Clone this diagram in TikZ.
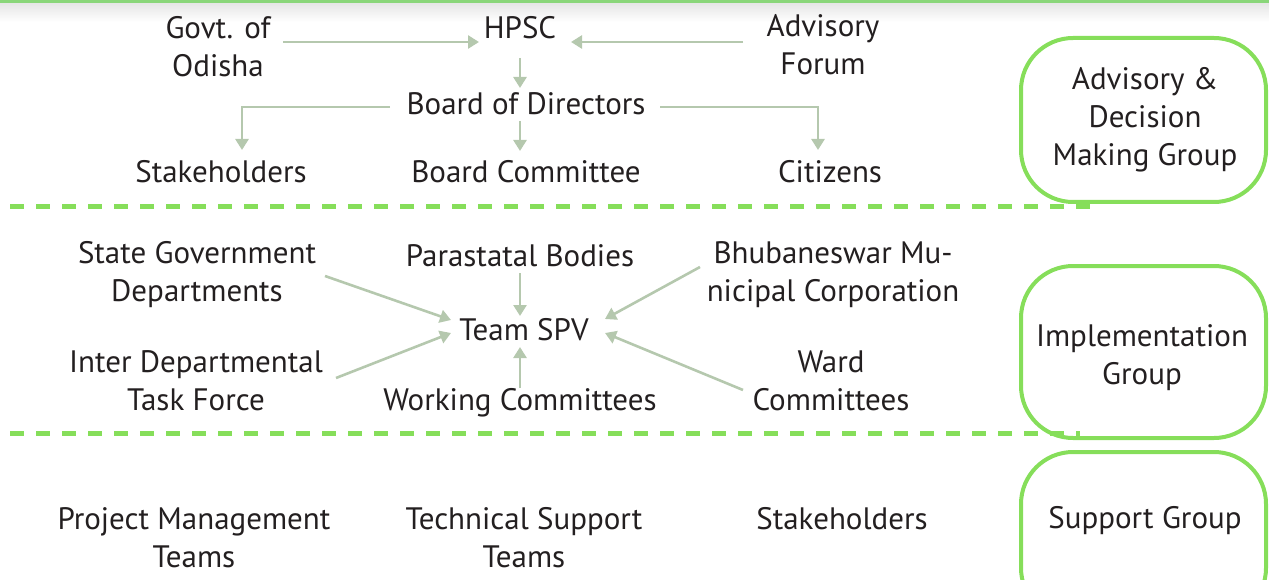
\documentclass[tikz,border=0pt]{standalone}
\usepackage{fontspec}
\setmainfont{PT Sans}
\usetikzlibrary{arrows.meta}
\definecolor{arr}{RGB}{181,200,174}
\definecolor{grn}{RGB}{134,222,90}
\definecolor{topg}{RGB}{138,214,122}
\definecolor{txt}{RGB}{35,31,32}
\tikzset{
  lbl/.style={font=\fontsize{31}{38}\selectfont, text=txt, align=center, inner sep=0pt},
  conn/.style={draw=arr, line width=2.6pt, -{Triangle[length=11pt,width=13pt]}},
  sep/.style={draw=grn, line width=5pt, dash pattern=on 14pt off 12pt},
  grp/.style={draw=grn, line width=4pt, rounded corners=52pt},
}
\begin{document}
\begin{tikzpicture}[x=1pt,y=-1pt]
\useasboundingbox (0,0) rectangle (1269,580);
\begin{scope}
\clip (0,0) rectangle (1269,580);
% top rule with shadow
\fill[top color=black!10, bottom color=white] (0,3) rectangle (1269,22);
\draw[topg, line width=3pt] (0,1.5) -- (1269,1.5);
% group boxes
\draw[grp] (1021,38) rectangle (1266,202);
\draw[grp] (1021,266) rectangle (1266,438);
\draw[grp] (1021,452) rectangle (1266,620);
% separators
\draw[sep] (10,207) -- (1100,207);
\draw[sep] (10,433) -- (1080,433);
\end{scope}
\node[lbl] (g1) at (1145,120) {Advisory \&\\Decision\\Making Group};
\node[lbl] (g2) at (1142,358) {Implementation\\Group};
\node[lbl] (g3) at (1145,521) {Support Group};
% top section
\node[lbl] (govt) at (218,47) {Govt. of\\Odisha};
\node[lbl] (hpsc) at (520,28) {HPSC};
\node[lbl] (adv) at (823,45) {Advisory\\Forum};
\node[lbl] (bod) at (526,104) {Board of Directors};
\node[lbl] (stk1) at (221,172) {Stakeholders};
\node[lbl] (bc) at (526,172) {Board Committee};
\node[lbl] (cit) at (830,172) {Citizens};
\coordinate (ga) at (283,42);
\coordinate (ha) at (479,42);
\coordinate (aa) at (743,42);
\coordinate (hb) at (571,42);
\draw[conn] (ga) -- (ha);
\draw[conn] (aa) -- (hb);
\coordinate (h1) at (520,58);
\coordinate (b1) at (520,88);
\draw[conn] (h1) -- (b1);
\coordinate (bl) at (390,107);
\coordinate (sl) at (242,150);
\draw[conn] (bl) -| (sl);
\coordinate (br) at (660,107);
\coordinate (cr) at (818,150);
\draw[conn] (br) -| (cr);
\coordinate (b2) at (520,121);
\coordinate (c2) at (520,151);
\draw[conn] (b2) -- (c2);
% middle section
\node[lbl] (sgd) at (197,275) {State Government\\Departments};
\node[lbl] (pb) at (520,256) {Parastatal Bodies};
\node[lbl] (bmc) at (833,275) {Bhubaneswar Mu-\\nicipal Corporation};
\node[lbl] (spv) at (524,330) {Team SPV};
\node[lbl] (idt) at (196,381) {Inter Departmental\\Task Force};
\node[lbl] (wc) at (520,403) {Working Committees};
\node[lbl] (ward) at (831,381) {Ward\\Committees};
\coordinate (s1) at (325,276);
\coordinate (t1) at (451,320);
\draw[conn] (s1) -- (t1);
\coordinate (s2) at (520,273);
\coordinate (t2) at (520,316);
\draw[conn] (s2) -- (t2);
\coordinate (s3) at (700,267);
\coordinate (t3) at (605,319);
\draw[conn] (s3) -- (t3);
\coordinate (s4) at (336,378);
\coordinate (t4) at (451,333);
\draw[conn] (s4) -- (t4);
\coordinate (s5) at (520,388);
\coordinate (t5) at (520,347);
\draw[conn] (s5) -- (t5);
\coordinate (s6) at (743,390);
\coordinate (t6) at (605,333);
\draw[conn] (s6) -- (t6);
% bottom section
\node[lbl] (pmt) at (194,538) {Project Management\\Teams};
\node[lbl] (tst) at (524,538) {Technical Support\\Teams};
\node[lbl] (stk2) at (842,519) {Stakeholders};
\end{tikzpicture}
\end{document}
